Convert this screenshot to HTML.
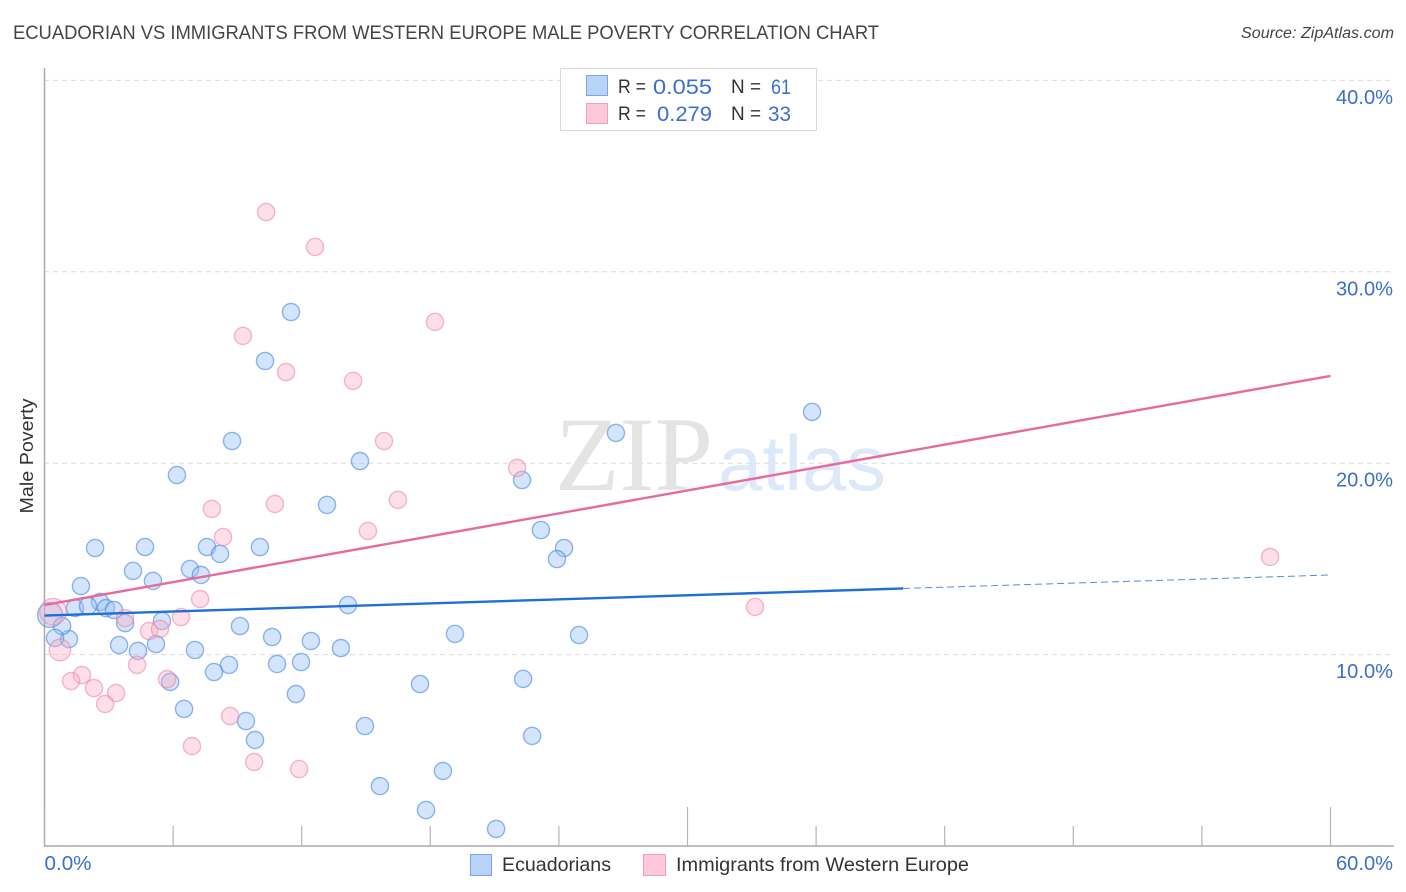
<!DOCTYPE html>
<html lang="en">
<head>
<meta charset="utf-8">
<title>Ecuadorian vs Immigrants from Western Europe Male Poverty Correlation Chart</title>
<style>
html,body{margin:0;padding:0;background:#fff;width:1406px;height:892px;overflow:hidden}
svg{display:block;font-family:"Liberation Sans",sans-serif}
</style>
</head>
<body>
<svg id="chart" width="1406" height="892" viewBox="0 0 1406 892" xmlns="http://www.w3.org/2000/svg">
  <rect width="1406" height="892" fill="#fff"/>
  <text x="13" y="39" font-size="19" fill="#454545" textLength="866" lengthAdjust="spacingAndGlyphs">ECUADORIAN VS IMMIGRANTS FROM WESTERN EUROPE MALE POVERTY CORRELATION CHART</text>
  <text x="1394" y="38" font-size="15.5" font-style="italic" fill="#444" text-anchor="end" textLength="153" lengthAdjust="spacingAndGlyphs">Source: ZipAtlas.com</text>
  <g id="grid"></g>
  <g>
    <text x="555" y="490" font-family="'Liberation Serif',serif" font-size="106" fill="#e4e4e4" textLength="158" lengthAdjust="spacingAndGlyphs">ZIP</text>
    <text x="718" y="490" font-size="78" fill="#dde8f8" textLength="168" lengthAdjust="spacingAndGlyphs">atlas</text>
  </g>
  <g id="axes">
    <line x1="44.5" y1="68" x2="44.5" y2="846.5" stroke="#aaa" stroke-width="1.5"/>
    <line x1="44" y1="846" x2="1394" y2="846" stroke="#aaa" stroke-width="1.5"/>
  </g>
  <g id="ticks"></g>
  <g id="pointsBlue"></g>
  <g id="pointsPink"></g>
  <g id="trends"></g>
  <g id="ylabels"></g>
  <g id="xlabels"></g>
  <text transform="translate(33,456) rotate(-90)" font-size="18" fill="#333" text-anchor="middle" textLength="115" lengthAdjust="spacingAndGlyphs">Male Poverty</text>

  <g>
    <rect x="560.5" y="68.5" width="256" height="62" fill="#fff" stroke="#d9d9d9" stroke-width="1"/>
    <rect x="586.5" y="75.5" width="21" height="20" fill="#b8d3f8" stroke="#7aa5e0" stroke-width="1"/>
    <rect x="586.5" y="103.5" width="21" height="20" fill="#fdc8da" stroke="#f0a0b8" stroke-width="1"/>
    <g font-size="19.5" fill="#333">
      <text x="618" y="93" textLength="28" lengthAdjust="spacingAndGlyphs">R =</text>
      <text x="731" y="93" textLength="30" lengthAdjust="spacingAndGlyphs">N =</text>
      <text x="618" y="120" textLength="28" lengthAdjust="spacingAndGlyphs">R =</text>
      <text x="731" y="120" textLength="30" lengthAdjust="spacingAndGlyphs">N =</text>
    </g>
    <g font-size="21" fill="#3a6fd0">
      <text x="653" y="94" textLength="59" lengthAdjust="spacingAndGlyphs">0.055</text>
      <text x="771" y="94" textLength="20" lengthAdjust="spacingAndGlyphs">61</text>
      <text x="657" y="121" textLength="55" lengthAdjust="spacingAndGlyphs">0.279</text>
      <text x="768" y="121" textLength="23" lengthAdjust="spacingAndGlyphs">33</text>
    </g>
  </g>

  <g>
    <rect x="470.5" y="854.5" width="21" height="21" fill="#b8d3f8" stroke="#7aa5e0" stroke-width="1"/>
    <text x="502" y="871" font-size="19.5" fill="#333" textLength="109" lengthAdjust="spacingAndGlyphs">Ecuadorians</text>
    <rect x="643.5" y="854.5" width="22" height="21" fill="#fdc8da" stroke="#f0a0b8" stroke-width="1"/>
    <text x="676" y="871" font-size="19.5" fill="#333" textLength="293" lengthAdjust="spacingAndGlyphs">Immigrants from Western Europe</text>
  </g>
</svg>
<script>
// Data (percent values)
const ecuadoriansX = [0.26,35.81,26.66,11.50,10.29,8.75,6.18,14.72,22.28,13.18,23.16,24.24,23.91,
  2.36,4.69,7.58,8.19,10.05,4.13,5.06,6.79,7.30,1.70,14.16,2.59,1.42,2.03,2.87,3.24,3.76,
  5.48,9.12,10.62,12.43,13.83,7.02,5.20,4.36,3.48,1.14,0.82,0.49,8.61,7.91,10.85,11.97,
  5.86,11.73,6.51,9.40,9.82,19.15,24.94,17.52,22.33,14.95,22.75,18.59,15.65,17.80,21.07];
const ecuadoriansY = [12.07,22.68,21.58,27.90,25.34,21.16,19.38,20.11,19.12,17.82,16.51,15.57,14.99,
  15.57,15.62,15.62,15.26,15.62,14.37,13.85,14.47,14.16,13.58,12.59,12.75,12.43,12.54,12.43,12.33,11.65,
  11.76,11.49,10.92,10.71,10.34,10.24,10.55,10.19,10.50,10.81,11.49,10.87,9.46,9.09,9.51,9.61,
  8.57,7.94,7.16,6.53,5.54,11.08,11.02,8.46,8.73,6.27,5.75,3.92,3.13,1.88,0.89];
const ecuadoriansWeight = [1.45];

const immigrantsX = [0.40,10.34,12.62,9.26,18.22,11.27,14.40,15.84,22.05,16.49,10.75,7.81,15.09,8.33,
  57.18,33.15,7.26,6.37,3.76,4.88,5.39,0.72,4.32,5.72,1.75,1.24,2.31,3.34,2.83,8.66,6.88,9.78,11.88];
const immigrantsY = [12.24,33.12,31.30,26.65,27.38,24.76,24.30,21.16,19.75,18.08,17.87,17.61,16.46,16.14,
  15.10,12.49,12.90,11.96,11.91,11.23,11.34,10.24,9.46,8.72,8.93,8.62,8.25,7.99,7.42,6.79,5.22,4.39,4.02];
const immigrantsWeight = [1.55,1,1,1,1,1,1,1,1,1,1,1,1,1,1,1,1,1,1,1,1,1.25];

const ecuadoriansTrend = [12.04,14.16];
const ecuadoriansSolidEnd = [40.06];
const immigrantsTrend = [12.59,24.56];
const xRange = [0,60];
const xTickValues = [0,6,12,18,24,30,36,42,48,54,60];
const xTickMajor = [0,30,60];
const yTickValues = [10,20,30,40];
const yTickLabels = ['10.0%','20.0%','30.0%','40.0%'];
const xEndLabels = ['0.0%','60.0%'];

// Axis functions
function xAxis(v){ return 44.5 + v * (1330.5 - 44.5) / 60; }
function yAxis(v){ return 846 - v * (846 - 80.4) / 40; }

const NS = 'http://www.w3.org/2000/svg';
function mk(tag, parent, attrs){
  const el = document.createElementNS(NS, tag);
  for (const k in attrs) el.setAttribute(k, attrs[k]);
  parent.appendChild(el);
  return el;
}
const grid = document.getElementById('grid');
const ticks = document.getElementById('ticks');
const ylabels = document.getElementById('ylabels');
const xlabels = document.getElementById('xlabels');
const pointsBlue = document.getElementById('pointsBlue');
const pointsPink = document.getElementById('pointsPink');
const trends = document.getElementById('trends');

yTickValues.forEach(function(v, i){
  const g = mk('line', grid, {x1:44, x2:1394, y1:yAxis(v), y2:yAxis(v), stroke:'#dcdcdc', 'stroke-width':1, 'stroke-dasharray':'5 4'});
  
  
  const t = mk('text', ylabels, {x:1393, y:yAxis(v)+23.5, 'text-anchor':'end', 'font-size':20, fill:'#3a6fd0', textLength:57, lengthAdjust:'spacingAndGlyphs'});
  t.textContent = yTickLabels[i];
  
  
});

xTickValues.forEach(function(v){
  const major = xTickMajor.indexOf(v) >= 0;
  const l = mk('line', ticks, {x1:xAxis(v), x2:xAxis(v), y1:major ? 807 : 826, y2:846, stroke:'#b4b4b4', 'stroke-width':1.2});
  
  
});

const xl0 = mk('text', xlabels, {x:xAxis(xRange[0]), y:870, 'font-size':20, fill:'#3a6fd0', textLength:47, lengthAdjust:'spacingAndGlyphs'});
xl0.textContent = xEndLabels[0];


const xl1 = mk('text', xlabels, {x:1393, y:870, 'text-anchor':'end', 'font-size':20, fill:'#3a6fd0', textLength:57, lengthAdjust:'spacingAndGlyphs'});
xl1.textContent = xEndLabels[1];



ecuadoriansX.forEach(function(v, i){
  const w = ecuadoriansWeight[i] || 1;
  const c = mk('circle', pointsBlue, {cx:xAxis(v), cy:yAxis(ecuadoriansY[i]), r:8.6*w, fill:'rgba(150,192,245,0.42)', stroke:'rgba(60,125,220,0.55)', 'stroke-width':1.4});
  
  
});
immigrantsX.forEach(function(v, i){
  const w = immigrantsWeight[i] || 1;
  const c = mk('circle', pointsPink, {cx:xAxis(v), cy:yAxis(immigrantsY[i]), r:8.6*w, fill:'rgba(250,175,200,0.4)', stroke:'rgba(235,120,160,0.5)', 'stroke-width':1.4});
  
  
});

function trendAt(tr, x){ return tr[0] + (tr[1] - tr[0]) * (x - xRange[0]) / (xRange[1] - xRange[0]); }

const dashLine = mk('line', trends, {x1:xAxis(ecuadoriansSolidEnd[0]), y1:yAxis(trendAt(ecuadoriansTrend, ecuadoriansSolidEnd[0])), x2:xAxis(xRange[1]), y2:yAxis(trendAt(ecuadoriansTrend, xRange[1])), stroke:'#2a70d0', 'stroke-width':1, 'stroke-dasharray':'7 4', opacity:0.8});


const pinkLine = mk('line', trends, {x1:xAxis(xRange[0]), y1:yAxis(trendAt(immigrantsTrend, xRange[0])), x2:xAxis(xRange[1]), y2:yAxis(trendAt(immigrantsTrend, xRange[1])), stroke:'#e76a9b', 'stroke-width':2.4});


const blueLine = mk('line', trends, {x1:xAxis(xRange[0]), y1:yAxis(trendAt(ecuadoriansTrend, xRange[0])), x2:xAxis(ecuadoriansSolidEnd[0]), y2:yAxis(trendAt(ecuadoriansTrend, ecuadoriansSolidEnd[0])), stroke:'#1f6fd6', 'stroke-width':2.4});


</script>
</body>
</html>
